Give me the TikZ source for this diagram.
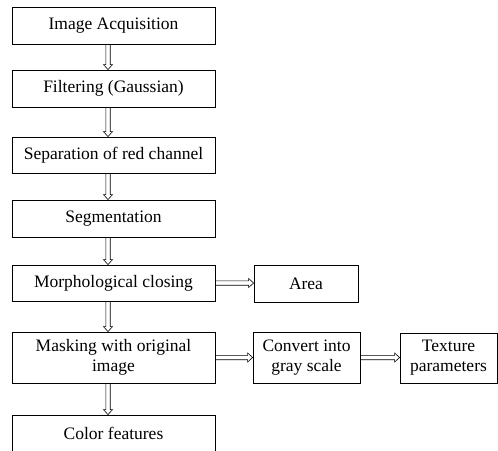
\documentclass[tikz,border=0pt]{standalone}
\usepackage{fontspec}
\setmainfont{Liberation Serif}
\newfontfamily\timesfont{Liberation Serif}
\usetikzlibrary{calc}
\newcommand\harr[2]{%
  \draw[arr] let \p1=(#1.east), \p2=(#2.west) in
    (\x1,\y1-2.2) -- (\x2-5,\y1-2.2) -- (\x2-5,\y1-4.5) -- (\x2,\y1) --
    (\x2-5,\y1+4.5) -- (\x2-5,\y1+2.2) -- (\x1,\y1+2.2);}
\newcommand\varr[2]{%
  \draw[arr] let \p1=([xshift=-5.5pt]#1.south), \p2=([xshift=-5.5pt]#2.north) in
    (\x1-2.2,\y1) -- (\x1-2.2,\y2+5) -- (\x1-4.5,\y2+5) -- (\x1,\y2) --
    (\x1+4.5,\y2+5) -- (\x1+2.2,\y2+5) -- (\x1+2.2,\y1);}
\begin{document}
\begin{tikzpicture}[x=1pt,y=1pt,
  box/.style={draw, line width=0.8pt, rectangle, align=center, inner sep=0pt,
    font=\timesfont\fontsize{17.5}{20}\selectfont},
  arr/.style={line width=0.6pt, line join=miter}]
\useasboundingbox (0,0) rectangle (498,-450);
\node[box, minimum width=203pt, minimum height=37pt] (b1) at (113.5,-25.5) {Image Acquisition};
\node[box, minimum width=203pt, minimum height=37pt] (b2) at (113.5,-88.5) {Filtering (Gaussian)};
\node[box, minimum width=203pt, minimum height=36pt] (b3) at (113.5,-155) {Separation of red channel};
\node[box, minimum width=203pt, minimum height=37pt] (b4) at (113.5,-218.5) {Segmentation};
\node[box, minimum width=203pt, minimum height=36pt] (b5) at (113.5,-283) {Morphological closing};
\node[box, minimum width=203pt, minimum height=51pt] (b6) at (113.5,-357.5) {Masking with original\\image};
\node[box, minimum width=203pt, minimum height=37pt] (b7) at (113.5,-433.5) {Color features};
\node[box, minimum width=104pt, minimum height=37pt] (area) at (306,-283.5) {Area};
\node[box, minimum width=107pt, minimum height=51pt] (conv) at (306.5,-357.5) {Convert into\\gray scale};
\node[box, minimum width=97pt, minimum height=50pt] (tex) at (448.5,-358) {Texture\\parameters};
\varr{b1}{b2}\varr{b2}{b3}\varr{b3}{b4}\varr{b4}{b5}\varr{b5}{b6}\varr{b6}{b7}
\harr{b5}{area}
\harr{b6}{conv}
\harr{conv}{tex}
\end{tikzpicture}
\end{document}
